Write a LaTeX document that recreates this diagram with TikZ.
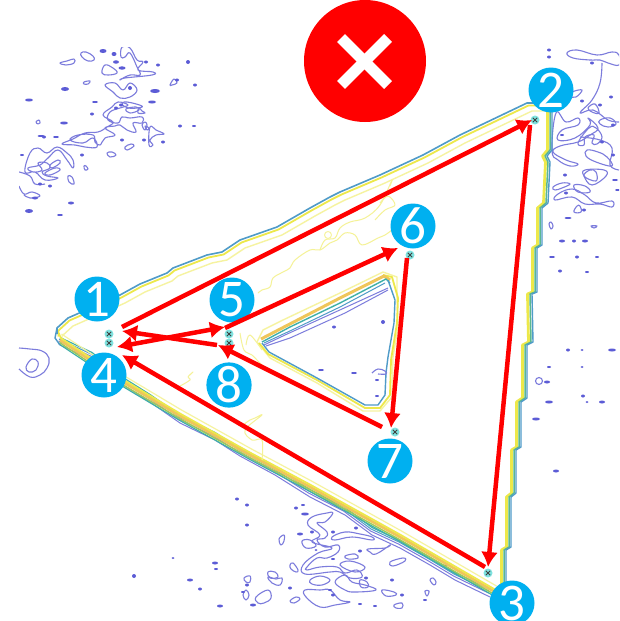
\documentclass[tikz,border=0pt]{standalone}
\usepackage{xcolor}
\usepackage{fontspec}
\setmainfont{Carlito}
\usetikzlibrary{arrows.meta, positioning}
\definecolor{badgeblue}{HTML}{00B0F0}
\definecolor{crossred}{HTML}{FF0000}
\definecolor{linevio}{HTML}{7C7CDC}
\definecolor{dotvio}{HTML}{5C5CD6}
\definecolor{lineblu}{HTML}{4F9BC8}
\definecolor{lineteal}{HTML}{3FB0A8}
\definecolor{linegrn}{HTML}{9CCB5A}
\definecolor{lineyel}{HTML}{EDE84A}
\definecolor{linegold}{HTML}{EFC65A}
\definecolor{linepale}{HTML}{F6F3A0}
\definecolor{markhalo}{HTML}{7FE3E0}
\tikzset{
  badge/.style={circle, fill=badgeblue, text=white, minimum size=45pt, inner sep=0pt,
    font=\fontsize{53}{53}\selectfont},
  crossmark/.style={circle, fill=markhalo, minimum size=9pt, inner sep=0pt,
    path picture={\draw[black!75, line width=0.9pt]
      (path picture bounding box.center)+(-2.2,-2.2) -- +(2.2,2.2)
      (path picture bounding box.center)+(-2.2,2.2) -- +(2.2,-2.2);}},
  redarrow/.style={crossred, line width=4.5pt, -{Latex[length=15pt,width=17pt]}},
  contourline/.style={draw=linevio, line width=1.1pt},
}
\newcommand{\blob}[1]{\draw[contourline] plot[smooth cycle, tension=0.7] coordinates {#1};}
\newcommand{\wiggle}[1]{\draw[contourline] plot[smooth, tension=0.7] coordinates {#1};}
\newcommand{\paleline}[1]{\draw[linepale!90!lineyel, line width=1pt] plot[smooth, tension=0.6] coordinates {#1};}
\newcommand{\specks}[1]{\foreach \x/\y/\rx/\ry in {#1} {\fill[dotvio] (\x,\y) ellipse ({\rx} and {\ry});}}
% edges of the big triangle, as they step
\newcommand{\topedge}{(57,334) -- (57,328) -- (68,318) -- (120,295) -- (140,284) -- (167,273) -- (173,268)
  -- (207,255) -- (222,252) -- (240,240) -- (277,227) -- (310,208) -- (330,197) -- (340,192) -- (380,175)
  -- (423,155) -- (460,135) -- (527,103) -- (552,103)}
\newcommand{\rightedge}{(552,110) -- (552,150) -- (547,156) -- (550,162) -- (548,203) -- (542,208) -- (542,245)
  -- (537,248) -- (537,292) -- (532,294) -- (533,342) -- (527,345) -- (527,398) -- (521,402) -- (521,447)
  -- (516,450) -- (516,493) -- (511,497) -- (511,547) -- (506,550) -- (506,590)}
\newcommand{\botedge}{(60,340) -- (123,382) -- (180,416) -- (250,455) -- (310,487) -- (400,537) -- (495,592)}
\newcommand{\botrough}{(60,345) -- (92,360) -- (123,385) -- (150,402) -- (180,423) -- (215,440) -- (240,456)
  -- (275,475) -- (310,497) -- (345,515) -- (372,535) -- (400,548) -- (430,565) -- (455,580) -- (490,597)}
\begin{document}
\begin{tikzpicture}[x=1pt, y=-1pt, line join=round]
  \useasboundingbox (0,0) rectangle (619,621);
  \clip (0,0) rectangle (619,621);
  \fill[white] (0,0) rectangle (619,621);
  % noise top left
  \begin{scope}
    \clip (19,47) rectangle (250,260);
    \blob{(60,63) (67,61) (74,59) (74,63) (66,65)}
    \blob{(81,53) (86,52) (93,56) (94,60) (88,61) (82,57)}
    \blob{(102,73) (105,65) (113,68) (117,73) (108,75)}
    \blob{(105,85) (115,83) (123,90) (130,83) (137,90) (130,97) (120,98) (113,92)}
    \blob{(122,47) (130,48) (137,60) (143,62) (138,70) (153,72) (152,75) (125,78) (120,80) (130,75) (140,75)
      (137,67) (130,53) (125,57) (121,57)}
    \blob{(103,115) (112,107) (118,102) (128,105) (120,108) (110,112) (108,120) (118,123) (122,117) (130,118)
      (142,117) (142,123) (133,123) (136,132) (127,130) (120,125) (115,126) (105,128) (115,135) (105,138)
      (100,145) (95,142) (93,135) (78,135) (70,140) (83,143) (93,138) (97,147) (85,147) (75,145) (62,144)
      (73,139) (85,133) (98,132) (107,127) (113,122)}
    \blob{(84,82) (90,81) (88,84) (84,84)}
    \blob{(170,85) (174,79) (177,83) (172,85)}
    \blob{(142,125) (145,122) (147,125) (145,130)}
    \blob{(145,126) (149,128) (147,130)}
    \blob{(149,145) (150,127) (156,130) (164,134) (156,135) (150,140) (153,145)}
    \blob{(122,104) (127,102) (142,106) (137,108) (128,108)}
    \blob{(126,109) (136,107) (139,110) (130,113)}
    \blob{(139,108) (142,111) (145,113) (138,113)}
    \blob{(125,147) (131,144) (134,146) (127,150)}
    \blob{(107,153) (112,152) (116,155) (110,157)}
    \blob{(36,122) (39,120) (40,123) (38,124)}
    \blob{(30,153) (38,148) (47,153) (57,147) (67,153) (73,160) (73,168) (67,160) (58,150) (48,158) (40,165)
      (28,168) (33,172) (42,170) (38,163) (47,163) (50,168) (42,172) (47,176) (58,178) (45,180) (35,172) (25,172)}
    \blob{(50,165) (58,160) (60,163) (52,168)}
    \blob{(45,173) (55,168) (60,170) (50,175)}
    \blob{(68,176) (72,177) (74,184) (69,182)}
    \blob{(84,166) (86,166) (88,169) (85,170)}
    \wiggle{(19,172) (30,176) (35,184) (45,184)}
    \wiggle{(19,186) (24,194) (32,192) (40,196) (30,198) (24,195)}
    \specks{103/51/3.5/2, 114/54/2.5/2, 116/62/3/1.7, 122/68/3.5/1.7, 188/62/2/2, 158/65/2/1.5,
      146/62/2/1.5, 177/80/2/1.5, 155/91/5/2, 130/88/2/2, 65/89/4/2, 29/100/4/1.5, 64/123/4/1.5, 41/136/3.5/1,
      56/137/3/1, 95/102/3/1, 92/114/2/1.5, 121/105/2/1.5, 152/102/4/1.5, 180/126/2/1.5,
      116/108/2/1.5, 163/142/2/1.5, 144/140/2/1.5, 122/140/2/1.5, 44/137/2/1.5, 22/155/2/1, 50/186/2/1.5,
      40/184/2/1.5, 71/203/3/1.5, 60/215/3/1, 35/198/3/1.5, 29/211/4/2, 195/85/2/1.5, 82/155/2/1.5, 194/126/2/1}
  \end{scope}
  % noise right
  \begin{scope}
    \clip (535,47) rectangle (619,330);
    \blob{(567,53) (577,50) (597,55) (612,52) (619,55) (619,65) (608,63) (600,60) (590,60) (573,58)}
    \blob{(572,92) (582,90) (576,97) (570,96)}
    \blob{(588,108) (595,104) (599,113) (592,112)}
    \blob{(600,120) (610,118) (616,124) (608,127) (600,124)}
    \blob{(587,150) (598,152) (607,157) (612,166) (596,162) (586,156)}
    \blob{(553,187) (562,183) (570,184) (562,188) (555,190)}
    \blob{(590,170) (596,172) (596,181) (584,176)}
    \blob{(577,206) (580,206) (581,212) (574,212)}
    \blob{(549,224) (551,222) (553,226) (551,229)}
    \blob{(591,226) (597,226) (594,228)}
    \blob{(578,143) (589,128) (596,128) (602,137) (597,144) (592,143) (594,135) (585,137) (584,145)}
    \blob{(556,113) (566,122) (578,118) (578,125) (562,130) (558,140) (575,138) (590,125) (588,118) (598,128)
      (590,135) (578,142) (560,146) (553,152) (566,160) (578,164) (570,166) (558,160) (552,150)}
    \wiggle{(602,63) (600,83) (592,100) (580,113) (593,110) (608,120) (619,122)}
    \wiggle{(580,137) (600,140) (612,148) (610,165) (619,170)}
    \blob{(558,194) (572,189) (585,195) (596,203) (612,201) (612,207) (600,204) (585,204) (572,197) (555,200)}
    \blob{(585,170) (604,170) (606,176) (592,185) (584,176)}
    \blob{(574,185) (585,186) (590,192) (578,192)}
    \specks{549/50/2/1.5, 549/57/2/1.5, 592/63/2/1.5, 582/101/2/1.5, 611/97/2/1.5, 600/105/2/1.5,
      613/125/2/1.5, 602/142/2/1.5, 613/155/2/1.5, 615/180/3/1, 584/210/2/1.5, 568/218/3.5/1, 585/241/3/1.5,
      574/241/2/1.5, 562/241/3/1.5, 552/257/3/1, 597/257/2/1, 577/257/2/1.5, 560/271/2/1.5, 587/272/2/1,
      618/190/3/1, 562/135/2/1, 565/175/2/1.5, 566/193/2/1.5}
  \end{scope}
  % noise below the bottom edge
  \begin{scope}
    \clip (130,480) rectangle (520,608);
    \blob{(312,517) (327,513) (333,513) (325,522) (317,523) (327,532) (325,538) (317,540) (325,547) (338,545)
      (338,552) (327,558) (317,558) (307,567) (307,570) (320,567) (337,567) (345,573) (357,570) (362,577)
      (350,578) (340,572) (330,572) (305,574) (303,565) (318,553) (332,548) (312,542) (320,535) (308,525)}
    \blob{(332,537) (345,532) (360,534) (372,537) (372,540) (352,537) (335,540)}
    \blob{(302,541) (310,540) (316,546) (306,548)}
    \blob{(368,549) (385,548) (390,545) (376,554) (370,552)}
    \blob{(345,556) (355,554) (358,558) (348,559)}
    \blob{(310,580) (320,576) (330,580) (322,585) (312,584)}
    \blob{(335,582) (345,575) (352,582) (365,585) (376,590) (355,592) (345,590)}
    \blob{(305,590) (320,590) (330,590) (340,600) (350,602) (335,605) (320,607) (306,597)}
    \blob{(390,562) (403,558) (405,561) (393,566)}
    \blob{(279,539) (284,535) (284,541) (281,545)}
    \blob{(243,595) (246,590) (249,595) (246,600)}
    \blob{(256,597) (268,590) (271,598) (264,603) (258,603)}
    \blob{(268,577) (276,579) (282,578) (280,585) (272,583)}
    \blob{(244,578) (250,576) (250,582) (246,582)}
    \blob{(290,565) (293,563) (298,570) (296,572) (291,569)}
    \blob{(268,572) (275,572) (278,577) (270,578)}
    \blob{(290,601) (296,597) (300,599) (294,603)}
    \blob{(382,590) (394,592) (396,595) (386,596)}
    \blob{(394,605) (402,603) (402,608) (396,608)}
    \blob{(430,580) (433,578) (436,582) (434,585)}
    \blob{(425,591) (429,591) (427,596)}
    \blob{(340,565) (350,561) (365,567) (355,572)}
    \blob{(360,580) (367,582) (368,587) (361,587)}
    \specks{237/499/2/1.5, 247/505/2/1.5, 296/508/2/1.5, 305/514/4/1.5, 247/525/2/1.5, 300/534/3/1.5,
      312/532/2/1.5, 333/532/2/1.5, 356/528/2/1.5, 360/551/2/1.5, 316/550/1.5/1, 333/559/2/1, 215/563/3/1.5, 173/558/1.5/1,
      200/589/2/1.5, 243/592/2/1, 190/580/3/1.5, 134/576/2/2, 216/569/2/1, 247/585/2/1.5, 290/588/2/1.5, 330/590/2/1,
      253/605/3/1.5, 220/606/3/1.5, 333/595/2/1.5, 366/578/2/1.5, 392/580/2/1.5, 402/595/2/1.5, 425/600/2/1,
      360/604/2/1, 375/606/2/1, 445/566/2/1.5, 303/505/2/1}
  \end{scope}
  % small ones on the right, lower part
  \specks{568/350/2/1.5, 549/367/2/1, 582/350/1.5/1, 612/350/4/1.5, 582/367/1.5/1, 549/402/4/1.5,
      583/396/2/1.5, 587/402/1.5/1, 602/402/3/1.5, 536/419/4/1.5, 556/471/3/1.5, 547/382/3/1.5}
  \draw[contourline] (539,381) circle (3.5);
  % blob left of the tip
  \wiggle{(19,348) (30,349) (42,351) (49,358) (47,368) (40,375) (30,377) (19,369)}
  \blob{(26,367) (32,359) (38,362) (36,370) (29,372)}
  % big triangle, top and right
  \draw[linepale, line width=1.4pt, shift={(5,8)}] \topedge;
  \draw[lineyel, line width=1.8pt, shift={(1.5,2.5)}] \topedge;
  \draw[lineblu, line width=1.6pt] \topedge;
  \draw[lineyel, line width=2.8pt, shift={(-4.5,0)}] \rightedge;
  \draw[lineteal!70!linegrn, line width=1.5pt, shift={(-2,0)}] \rightedge;
  \draw[lineblu, line width=1.4pt] \rightedge;
  % big triangle, bottom
  \draw[linevio, line width=1pt] \botrough;
  \draw[linevio, line width=1pt, shift={(-1.5,-4)}] \botrough;
  \draw[lineblu, line width=1pt, shift={(-1,-6)}] \botrough;
  \draw[lineteal, line width=1.2pt, shift={(0,-7.5)}] \botrough;
  \draw[lineteal, line width=1.2pt, shift={(-1,4)}] \botedge;
  \draw[linegrn, line width=1.4pt, shift={(-.5,2.5)}] \botedge;
  \draw[linegold, line width=2.8pt] \botedge;
  \draw[lineyel, line width=1.8pt, shift={(.8,-2)}] \botedge;
  \draw[linepale, line width=1.2pt, shift={(1.5,-6)}] \botedge;
  \draw[lineblu, line width=1.4pt] (57,328) -- (55,338) -- (60,345);
  \draw[lineyel, line width=1.5pt] (59,333) -- (61,339);
  % pale wiggles in the band
  \paleline{(258,293) (262,290) (270,287) (273,278) (283,272) (290,268) (295,260) (310,250) (320,250) (330,243)
    (337,240) (345,233) (355,235) (362,245) (378,238) (385,235) (392,230)}
  \paleline{(320,250) (325,240) (335,238) (340,228) (350,222) (365,218) (380,205) (392,180) (390,186)}
  \paleline{(375,220) (385,210) (395,205) (388,196) (380,203)}
  \paleline{(240,333) (244,350) (252,355) (262,365) (270,370)}
  \paleline{(262,350) (250,335) (246,345)}
  \paleline{(180,386) (190,380) (188,377) (193,372) (190,375)}
  \paleline{(243,425) (250,420) (255,418) (262,415) (245,430) (252,440) (262,440) (262,460)}
  \draw[linepale, line width=1pt] (328,235) circle (3.5);
  % inner triangle
  \draw[linepale, line width=1.4pt] (257,342) -- (263,330) -- (283,320) -- (340,293) -- (383,272) -- (397,277) -- (397,297)
    -- (398,327) -- (393,357) -- (392,397) -- (380,411) -- (363,411) -- (317,383) -- (270,358) -- cycle;
  \draw[lineyel, line width=1.8pt] (259,343) -- (268,354) -- (317,380) -- (365,408) -- (380,408) -- (390,395) -- (391,360)
    -- (397,323) -- (398,298) -- (392,277) -- (383,275);
  \draw[linegold, line width=3pt] (261,339) -- (286,326) -- (340,298) -- (384,276) -- (390,280);
  \draw[lineteal, line width=1.4pt] (262,342) -- (290,327) -- (340,303) -- (386,279) -- (390,283);
  \draw[lineblu, line width=1.4pt] (262,343) -- (269,352) -- (317,378) -- (365,405) -- (378,405) -- (385,395) -- (386,373)
    -- (388,357) -- (394,323) -- (395,300) -- (388,280);
  \draw[lineblu, line width=1pt] (264,343) -- (292,330) -- (340,307) -- (385,283);
  \draw[linevio, line width=1pt] (264,345) -- (285,335) -- (342,309) -- (388,288);
  \draw[linevio, line width=1pt] (266,346) -- (290,338) -- (345,313) -- (388,290);
  \specks{334/327/2/1.5, 383/322/2/2, 321/370/3/1, 354/373/3/1, 377/396/2/1, 377/380/2/1}
  \wiggle{(372,373) (378,369) (385,371) (386,374) (378,374)}
  % the cross
  \node (stopdisc) [circle, fill=crossred, minimum size=122pt, inner sep=0pt] at (365,61) {};
  \coordinate (xa) at (341,38);
  \coordinate (xb) at (388,85);
  \coordinate (xc) at (341,85);
  \coordinate (xd) at (388,38);
  \draw[white, line width=11pt] (xa) -- (xb);
  \draw[white, line width=11pt] (xc) -- (xd);
  % picked points
  \foreach \n/\x/\y in {a/109/334, b/535/120, c/488/573, d/109/343, e/229/334, f/410/255, g/395/432, h/229/343}
    \node (mark\n) [crossmark] at (\x,\y) {};
  % number badges
  \node (one) [badge] at (97,299) {1};
  \node (two) [badge] at (551,90) {2};
  \node (three) [badge] at (512,603) {3};
  \node (four) [badge] at (104,375) {4};
  \node (five) [badge] at (232,300) {5};
  \node (six) [badge] at (413,226) {6};
  \node (seven) [badge] at (390,461) {7};
  \node (eight) [badge] at (229,385) {8};
  % red path
  \coordinate (out1) at (122,327);
  \coordinate (in2) at (532,120);
  \coordinate (out2) at (530,125);
  \coordinate (in3) at (488,567);
  \coordinate (out3) at (485,567);
  \coordinate (in4) at (122,355);
  \coordinate (out4) at (117,347);
  \coordinate (in5) at (225,327);
  \coordinate (out5) at (225,328);
  \coordinate (in6) at (398,248);
  \coordinate (out6) at (407,258);
  \coordinate (in7) at (391,428);
  \coordinate (out7) at (382,427);
  \coordinate (in8) at (218,345);
  \coordinate (out8) at (217,345);
  \coordinate (in1) at (122,331);
  \foreach \a/\b in {out1/in2, out2/in3, out3/in4, out5/in6, out6/in7, out7/in8, out8/in1}
    \draw[redarrow] (\a) -- (\b);
  \draw[redarrow, {Latex[length=15pt,width=17pt]}-{Latex[length=15pt,width=17pt]}] (out4) -- (in5);
\end{tikzpicture}
\end{document}
